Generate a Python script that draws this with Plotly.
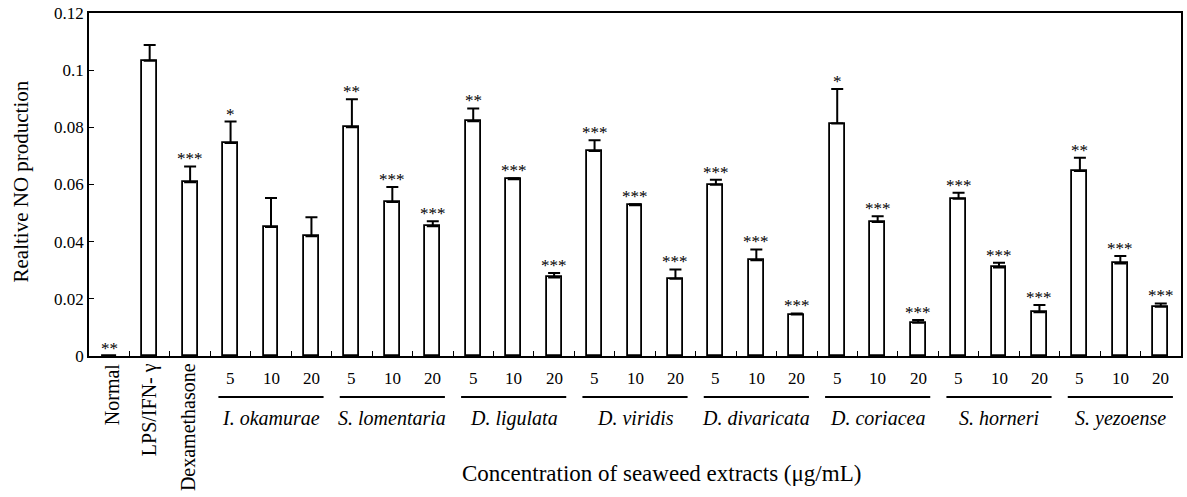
import plotly.graph_objects as go

# ---- data ----
controls = ["Normal", "LPS/IFN- γ", "Dexamethasone"]
species = ["I. okamurae", "S. lomentaria", "D. ligulata", "D. viridis",
           "D. divaricata", "D. coriacea", "S. horneri", "S. yezoense"]
concentrations = ["5", "10", "20"]

control_values = [0.0, 0.1033, 0.0608]
control_errors = [0.0, 0.0055, 0.0055]
control_stars = ["**", "", "***"]

species_values = [
    [0.0745, 0.0451, 0.0419],   # I. okamurae
    [0.0800, 0.0539, 0.0454],   # S. lomentaria
    [0.0821, 0.0618, 0.0275],   # D. ligulata
    [0.0717, 0.0527, 0.0270],   # D. viridis
    [0.0599, 0.0335, 0.0145],   # D. divaricata
    [0.0813, 0.0469, 0.0116],   # D. coriacea
    [0.0550, 0.0310, 0.0153],   # S. horneri
    [0.0647, 0.0324, 0.0172],   # S. yezoense
]
species_errors = [
    [0.0075, 0.0102, 0.0066],
    [0.0098, 0.0052, 0.0017],
    [0.0045, 0.0004, 0.0015],
    [0.0038, 0.0004, 0.0033],
    [0.0018, 0.0038, 0.0004],
    [0.0121, 0.0020, 0.0010],
    [0.0021, 0.0016, 0.0025],
    [0.0047, 0.0026, 0.0012],
]
species_stars = [
    ["*", "", ""],
    ["**", "***", "***"],
    ["**", "***", "***"],
    ["***", "***", "***"],
    ["***", "***", "***"],
    ["*", "***", "***"],
    ["***", "***", "***"],
    ["**", "***", "***"],
]

y_tickvals = [0, 0.02, 0.04, 0.06, 0.08, 0.1, 0.12]
y_ticktext = ["0", "0.02", "0.04", "0.06", "0.08", "0.1", "0.12"]

# ---- assemble ----
values = list(control_values)
errors = list(control_errors)
stars = list(control_stars)
for v, e, s in zip(species_values, species_errors, species_stars):
    values += v
    errors += e
    stars += s
xs = list(range(len(values)))

FONT = "Liberation Serif"

fig = go.Figure()
fig.add_trace(go.Bar(
    x=xs, y=values, width=0.37,
    marker=dict(color="white", line=dict(color="black", width=1.8)),
    error_y=dict(type="data", symmetric=False, array=errors,
                 arrayminus=[0] * len(errors), color="black",
                 thickness=2, width=6),
    showlegend=False,
))

annotations = []
# significance stars
for x, v, e, s in zip(xs, values, errors, stars):
    if s:
        annotations.append(dict(x=x, y=v + e, xref="x", yref="y", text=s,
                                showarrow=False, yanchor="bottom", yshift=-4,
                                font=dict(family=FONT, size=17, color="#000000")))
# control labels (rotated)
for i, lab in enumerate(controls):
    annotations.append(dict(x=i, y=0, xref="x", yref="y", text=lab,
                            textangle=-90, showarrow=False, yanchor="top",
                            xanchor="center", yshift=-5,
                            xshift=3 if i == 0 else (-2 if i == 2 else 0),
                            font=dict(family=FONT, size=20, color="black")))
shapes = []
n_ctrl = len(controls)
for gi, name in enumerate(species):
    start = n_ctrl + gi * len(concentrations)
    for ci, c in enumerate(concentrations):
        annotations.append(dict(x=start + ci, y=0, xref="x", yref="y", text=c,
                                showarrow=False, yanchor="middle", yshift=-22,
                                font=dict(family=FONT, size=17, color="black")))
    shapes.append(dict(type="line", xref="x", yref="paper",
                       x0=start - 0.3,
                       x1=start + len(concentrations) - 1 + 0.3,
                       y0=-0.1195, y1=-0.1195,
                       line=dict(color="black", width=2)))
    annotations.append(dict(x=start + 1, y=0, xref="x", yref="y",
                            text="<i>" + name + "</i>", showarrow=False,
                            yanchor="middle", yshift=-62,
                            font=dict(family=FONT, size=20, color="black")))
# axis titles
annotations.append(dict(x=0.524, y=0, xref="paper", yref="paper",
                        text="Concentration of seaweed extracts (μg/mL)",
                        showarrow=False, yanchor="middle", xanchor="center",
                        yshift=-117,
                        font=dict(family=FONT, size=23, color="black")))
annotations.append(dict(x=0, y=0.5, xref="paper", yref="paper",
                        text="Realtive NO production", textangle=-90,
                        showarrow=False, xanchor="center", yanchor="middle",
                        xshift=-69, yshift=3,
                        font=dict(family=FONT, size=21, color="black")))

fig.update_layout(
    width=1187, height=497,
    margin=dict(l=89, r=4, t=13, b=141),
    plot_bgcolor="white", paper_bgcolor="white",
    annotations=annotations, shapes=shapes,
    font=dict(family=FONT, color="black"),
    bargap=0,
)
fig.update_xaxes(
    range=[-0.5, len(values) - 0.5],
    tickmode="array", tickvals=[i + 0.5 for i in range(len(values) - 1)],
    ticks="inside", ticklen=5, tickwidth=1, tickcolor="black",
    showticklabels=False, showgrid=False, zeroline=False,
    showline=True, linecolor="black", linewidth=1.5, mirror=True,
)
fig.update_yaxes(
    range=[0, 0.12], tickmode="array", tickvals=y_tickvals,
    ticktext=y_ticktext, ticks="inside", ticklen=5, tickwidth=1,
    tickcolor="black", showgrid=False, zeroline=False,
    showline=True, linecolor="black", linewidth=1.5, mirror=True,
    tickfont=dict(family=FONT, size=17, color="black"),
)

fig.write_html("out.html")
